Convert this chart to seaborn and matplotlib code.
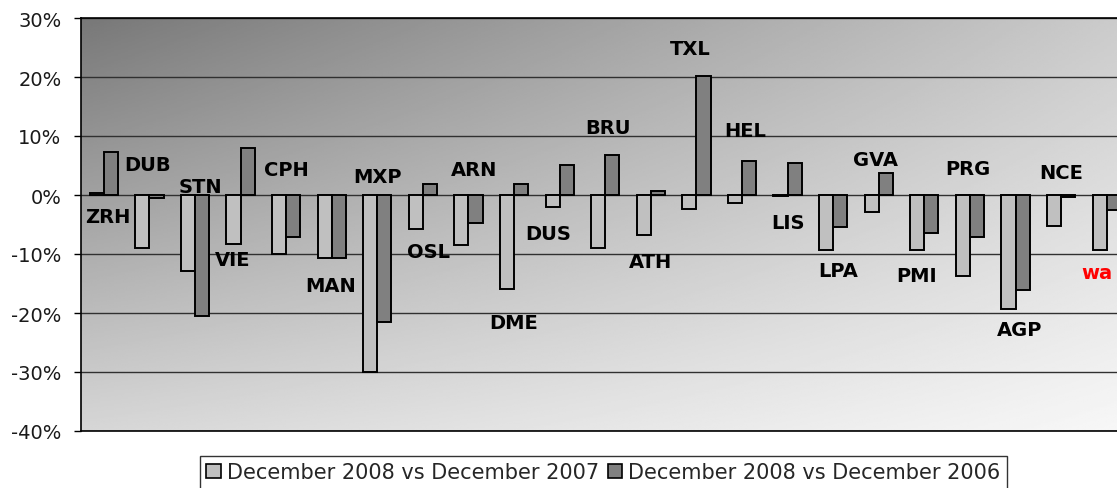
import matplotlib
matplotlib.use("Agg")
import matplotlib.pyplot as plt
import numpy as np
import pandas as pd
import seaborn as sns
from matplotlib.patches import Patch

# ── data (percent change) ─────────────────────────────────────────────────────
airports = ["ZRH", "DUB", "STN", "VIE", "CPH", "MAN", "MXP", "OSL", "ARN", "DME",
            "DUS", "BRU", "ATH", "TXL", "HEL", "LIS", "LPA", "GVA", "PMI", "PRG",
            "AGP", "NCE", "wa"]
vs_2007 = [0.3, -9.0, -12.8, -8.3, -10.0, -10.6, -30.0, -5.8, -8.4, -16.0,
           -2.0, -9.0, -6.7, -2.3, -1.3, -0.2, -9.3, -2.9, -9.3, -13.8,
           -19.3, -5.2, -9.3]
vs_2006 = [7.3, -0.5, -20.5, 8.0, -7.1, -10.6, -21.5, 1.9, -4.8, 1.9,
           5.1, 6.7, 0.6, 20.1, 5.8, 5.4, -5.5, 3.8, -6.4, -7.1,
           -16.1, -0.3, -2.6]
series_names = ["December 2008 vs December 2007", "December 2008 vs December 2006"]
y_ticks = [30, 20, 10, 0, -10, -20, -30, -40]

# airport label placement (x offset from category centre, y in %)
label_dx = [0.08, -0.05, 0.11, -0.18, 0.0, -0.03, 0.0, 0.12, 0.12, 0.0,
            -0.25, 0.06, 0.0, -0.13, 0.06, 0.0, 0.11, -0.07, -0.18, -0.05,
            0.08, 0.0, -0.21]
label_y = [-3.6, 5.1, 1.45, -11.0, 4.3, -15.3, 3.2, -9.5, 4.3, -21.6,
           -6.5, 11.5, -11.35, 24.9, 10.9, -4.6, -12.85, 6.1, -13.7, 4.5,
           -22.8, 3.8, -13.2]

LIGHT = "#C0C0C0"
DARK = "#808080"
W, H = 1117, 489

df = pd.DataFrame({
    "airport": airports * 2,
    "value": vs_2007 + vs_2006,
    "series": [series_names[0]] * len(airports) + [series_names[1]] * len(airports),
})

sns.set_theme(style="white")
plt.rcParams["font.family"] = ["DejaVu Sans"]

fig = plt.figure(figsize=(W / 100, H / 100), dpi=100, facecolor="white")
ax = fig.add_axes([81 / W, (H - 432) / H, 1048.5 / W, 413 / H])

# diagonal grey gradient background
gx, gy = np.meshgrid(np.linspace(0, 1, 300), np.linspace(0, 1, 300))
tl, tr, bl, br = 0.47, 0.80, 0.84, 0.97
grad = tl * (1 - gx) * (1 - gy) + tr * gx * (1 - gy) + bl * (1 - gx) * gy + br * gx * gy
ax.imshow(grad, cmap="gray", vmin=0, vmax=1, extent=[-0.5, len(airports) - 0.5, -40, 30],
          aspect="auto", zorder=0, origin="upper")

sns.barplot(data=df, x="airport", y="value", hue="series", order=airports,
            hue_order=series_names, palette=[LIGHT, DARK], saturation=1,
            edgecolor="black", linewidth=1.4, width=0.62, legend=False,
            ax=ax, zorder=3)
# keep the exact greys on the bars
for bar, c in zip(ax.patches, [LIGHT] * len(airports) + [DARK] * len(airports)):
    bar.set_facecolor(c)
    bar.set_alpha(1)

ax.set_xlim(-0.5, len(airports) - 0.5)
ax.set_ylim(-40, 30)
ax.set_yticks(y_ticks)
ax.set_yticklabels([f"{t}%" for t in y_ticks], fontsize=14, color="#1a1a1a")
ax.set_xticks([])
ax.set_xlabel("")
ax.set_ylabel("")
for y in y_ticks:
    ax.axhline(y, color="#303030", lw=1.0, zorder=1)
ax.tick_params(axis="y", left=True, length=5, width=1, color="black", pad=9)
for side in ["left", "top", "bottom"]:
    ax.spines[side].set_color("black")
    ax.spines[side].set_linewidth(1.2)
ax.spines["right"].set_visible(False)

for i, name in enumerate(airports):
    ax.text(i + label_dx[i], label_y[i], name, ha="center", va="center",
            fontsize=14, fontweight="bold",
            color="red" if name == "wa" else "black", zorder=5)

handles = [Patch(facecolor=LIGHT, edgecolor="black", lw=1.2, label=series_names[0]),
           Patch(facecolor=DARK, edgecolor="black", lw=1.2, label=series_names[1])]
leg = fig.legend(handles=handles, loc="upper center", ncol=2,
                 bbox_to_anchor=(603.5 / W, (H - 457) / H), borderaxespad=0,
                 fontsize=15, frameon=True, fancybox=False,
                 handlelength=0.7, handleheight=0.7, handletextpad=0.3,
                 columnspacing=0.4, borderpad=0.3)
leg.get_frame().set_edgecolor("black")
leg.get_frame().set_linewidth(1.0)

fig.savefig("out.png", dpi=100, facecolor="white")
